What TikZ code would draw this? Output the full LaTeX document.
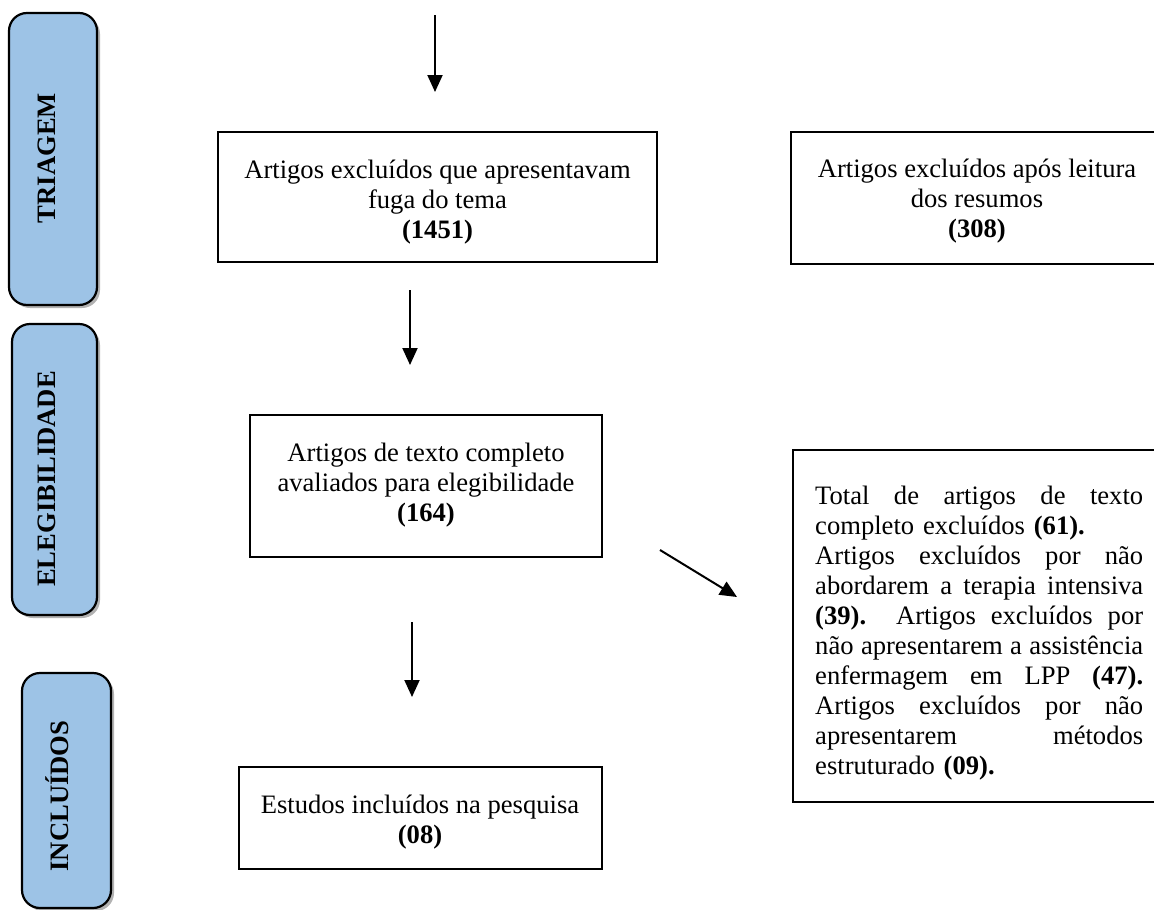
\documentclass[tikz,border=0pt]{standalone}
\usepackage{fontspec}
\setmainfont{Liberation Serif}
\usetikzlibrary{arrows.meta}
\definecolor{phasefill}{HTML}{9DC3E6}
\newcommand\jline[1]{\leavevmode\hbox to 328pt{\frenchspacing\spaceskip=0.25em plus 1fil\relax #1}}
\begin{document}
\begin{tikzpicture}[x=1pt,y=-1pt,
  phasebox/.style={draw=black, line width=2.2pt, fill=phasefill, rounded corners=18pt, inner sep=0pt},
  phaseshadow/.style={fill=black!30, rounded corners=18pt, inner sep=0pt},
  phaselabel/.style={rotate=90, font=\fontsize{26.6}{30}\selectfont\bfseries, inner sep=0pt},
  flowbox/.style={draw=black, line width=1.5pt, inner sep=0pt},
  flowtext/.style={align=center, font=\fontsize{26.6}{30}\selectfont, inner sep=0pt},
  arr/.style={line width=2pt, -{Triangle[width=15pt,length=17pt]}}]
\clip (0,0) rectangle (1154,910);
\fill[white] (0,0) rectangle (1154,910);

% phase boxes
\node[phaseshadow, minimum width=88pt, minimum height=292pt] at (56,162) {};
\node[phasebox, minimum width=88pt, minimum height=292pt] (triagem) at (53,159) {};
\node[phaselabel] (ltriagem) at (47,158) {TRIAGEM};

\node[phaseshadow, minimum width=85pt, minimum height=291pt] at (57.5,472.5) {};
\node[phasebox, minimum width=85pt, minimum height=291pt] (eleg) at (54.5,469.5) {};
\node[phaselabel] (leleg) at (47,479) {ELEGIBILIDADE};

\node[phaseshadow, minimum width=89pt, minimum height=235pt] at (69.5,793.5) {};
\node[phasebox, minimum width=89pt, minimum height=235pt] (incl) at (66.5,790.5) {};
\node[phaselabel] (lincl) at (57,796) {INCLUÍDOS};

% flow boxes
\node[flowbox, minimum width=439pt, minimum height=130pt] (b1) at (437.5,197) {};
\node[flowtext] (t1) at (437.5,202) {Artigos excluídos que apresentavam\\fuga do tema\\\textbf{(1451)}};

\node[flowbox, minimum width=372pt, minimum height=132pt] (b2) at (977,198) {};
\node[flowtext] (t2) at (977,201) {Artigos excluídos após leitura\\dos resumos\\\textbf{(308)}};

\node[flowbox, minimum width=352pt, minimum height=142pt] (b3) at (426,486) {};
\node[flowtext] (t3) at (426,485) {Artigos de texto completo\\avaliados para elegibilidade\\\textbf{(164)}};

\node[flowbox, minimum width=372pt, minimum height=352pt] (b4) at (979,626) {};
\node[anchor=north west, align=left, text width=328pt, inner sep=0pt,
      font=\fontsize{26.6}{30}\selectfont] (t4) at (815,486) {%
\jline{Total de artigos de texto}\\
completo excluídos \textbf{(61).}\\
\jline{Artigos excluídos por não}\\
\jline{abordarem a terapia intensiva}\\
\jline{\textbf{(39).}\ \ Artigos excluídos por}\\
\jline{não apresentarem a assistência}\\
\jline{enfermagem em LPP \textbf{(47).}}\\
\jline{Artigos excluídos por não}\\
\jline{apresentarem métodos}\\
estruturado \textbf{(09).}};

\node[flowbox, minimum width=363pt, minimum height=102pt] (b5) at (420.5,818) {};
\node[flowtext] (t5) at (420,822) {Estudos incluídos na pesquisa\\\textbf{(08)}};

% arrows
\coordinate (a1s) at (435,15);
\coordinate (a1e) at (435,92);
\coordinate (a2s) at (410,290);
\coordinate (a2e) at (410,365);
\coordinate (a3s) at (412,622);
\coordinate (a3e) at (412,697);
\coordinate (a4s) at (660,550);
\coordinate (a4e) at (737,597);
\draw[arr] (a1s) -- (a1e);
\draw[arr] (a2s) -- (a2e);
\draw[arr] (a3s) -- (a3e);
\draw[arr] (a4s) -- (a4e);
\end{tikzpicture}
\end{document}
